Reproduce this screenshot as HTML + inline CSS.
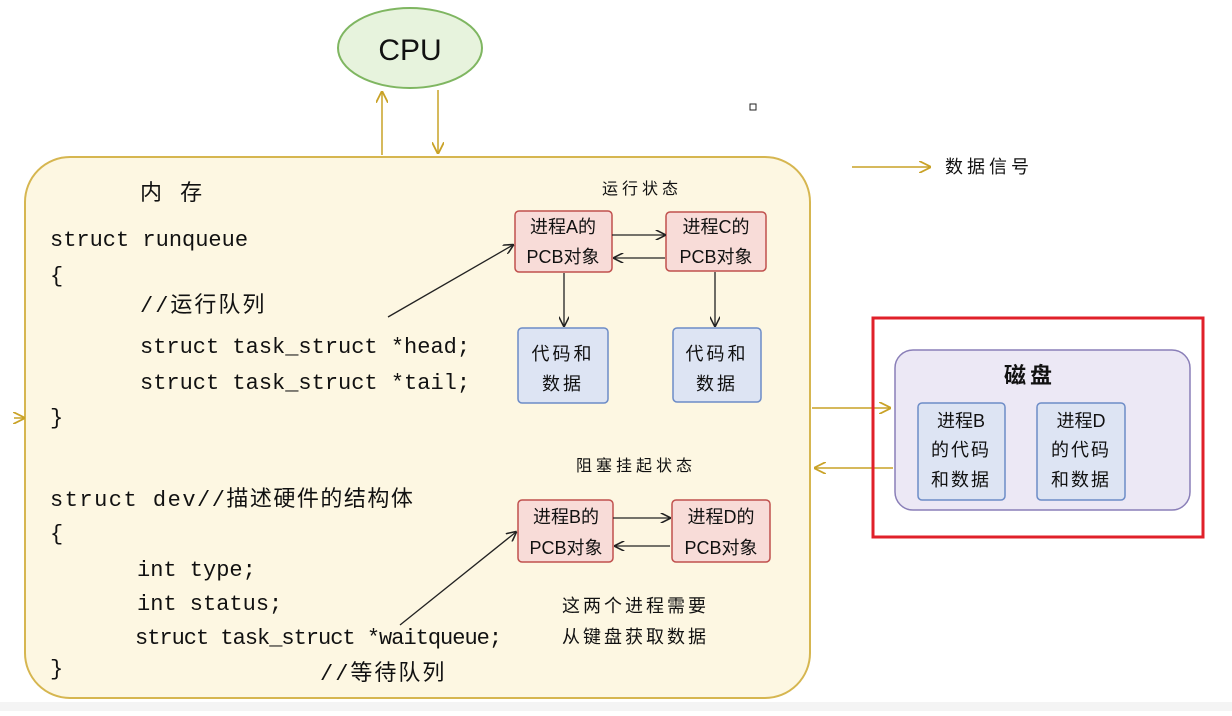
<!DOCTYPE html>
<html><head><meta charset="utf-8"><style>
body{margin:0;background:#fff;width:1232px;height:711px;overflow:hidden}
svg text{font-family:"Liberation Sans","Noto Sans CJK SC",sans-serif;fill:#111}
svg .m{font-family:"Liberation Mono","Noto Sans CJK SC",monospace}
</style></head><body>
<svg width="1232" height="711" viewBox="0 0 1232 711">
<defs>
<marker id="a" viewBox="0 0 10 10" refX="9" refY="5" markerWidth="8" markerHeight="8" orient="auto"><path d="M0,0 L10,5 L0,10" fill="none" stroke="#222" stroke-width="1.5"/></marker>
<marker id="y" viewBox="0 0 10 10" refX="9" refY="5" markerWidth="8" markerHeight="8" orient="auto"><path d="M0,0 L10,5 L0,10" fill="none" stroke="#c9a227" stroke-width="1.5"/></marker>
</defs>
<rect x="0" y="702" width="1232" height="9" fill="#f4f4f4"/>
<ellipse cx="410" cy="48" rx="72" ry="40" fill="#e7f3dd" stroke="#7fb661" stroke-width="2"/>
<text x="410" y="60" font-size="30" text-anchor="middle">CPU</text>
<rect x="750" y="104" width="6" height="6" fill="none" stroke="#222"/>
<line x1="382" y1="155" x2="382" y2="92" stroke="#c9a227" stroke-width="1.5" marker-end="url(#y)"/>
<line x1="438" y1="90" x2="438" y2="153" stroke="#c9a227" stroke-width="1.5" marker-end="url(#y)"/>
<line x1="852" y1="167" x2="930" y2="167" stroke="#c9a227" stroke-width="1.5" marker-end="url(#y)"/>
<text x="945" y="173" font-size="18" letter-spacing="4">数据信号</text>
<rect x="25" y="157" width="785" height="541" rx="45" fill="#fdf7e2" stroke="#d6b650" stroke-width="2"/>
<text x="140" y="200" font-size="22" letter-spacing="6">内 存</text>
<g font-size="22" class="m">
<text class="m" x="50" y="246">struct runqueue</text>
<text class="m" x="50" y="282">{</text>
<text class="m" x="140" y="312" letter-spacing="2">//运行队列</text>
<text class="m" x="140" y="353">struct task_struct *head;</text>
<text class="m" x="140" y="389">struct task_struct *tail;</text>
<text class="m" x="50" y="424">}</text>
<text class="m" x="50" y="506" letter-spacing="1.5">struct dev//描述硬件的结构体</text>
<text class="m" x="50" y="540">{</text>
<text class="m" x="137" y="576">int type;</text>
<text class="m" x="137" y="610">int status;</text>
<text class="m" x="135" y="644" letter-spacing="-1">struct task_struct *waitqueue;</text>
<text class="m" x="50" y="675">}</text>
<text class="m" x="320" y="680" letter-spacing="2">//等待队列</text>
</g>
<text x="602" y="194" font-size="16" letter-spacing="4">运行状态</text>
<text x="576" y="471" font-size="16" letter-spacing="4">阻塞挂起状态</text>
<text x="562" y="612" font-size="18" letter-spacing="3">这两个进程需要</text>
<text x="562" y="643" font-size="18" letter-spacing="3">从键盘获取数据</text>
<g font-size="18" text-anchor="middle">
<rect x="515" y="211" width="97" height="61" rx="4" fill="#f8dcd8" stroke="#c0504d" stroke-width="1.5"/>
<text x="563" y="233">进程A的</text><text x="563" y="263">PCB对象</text>
<rect x="666" y="212" width="100" height="59" rx="4" fill="#f8dcd8" stroke="#c0504d" stroke-width="1.5"/>
<text x="716" y="233">进程C的</text><text x="716" y="263">PCB对象</text>
<rect x="518" y="328" width="90" height="75" rx="4" fill="#dde4f3" stroke="#6d8cc7" stroke-width="1.5"/>
<text x="563" y="360" letter-spacing="3">代码和</text><text x="563" y="390" letter-spacing="3">数据</text>
<rect x="673" y="328" width="88" height="74" rx="4" fill="#dde4f3" stroke="#6d8cc7" stroke-width="1.5"/>
<text x="717" y="360" letter-spacing="3">代码和</text><text x="717" y="390" letter-spacing="3">数据</text>
<rect x="518" y="500" width="95" height="62" rx="4" fill="#f8dcd8" stroke="#c0504d" stroke-width="1.5"/>
<text x="566" y="523">进程B的</text><text x="566" y="554">PCB对象</text>
<rect x="672" y="500" width="98" height="62" rx="4" fill="#f8dcd8" stroke="#c0504d" stroke-width="1.5"/>
<text x="721" y="523">进程D的</text><text x="721" y="554">PCB对象</text>
</g>
<g stroke="#222" stroke-width="1.3" fill="none">
<line x1="612" y1="235" x2="665" y2="235" marker-end="url(#a)"/>
<line x1="665" y1="258" x2="614" y2="258" marker-end="url(#a)"/>
<line x1="564" y1="273" x2="564" y2="326" marker-end="url(#a)"/>
<line x1="715" y1="272" x2="715" y2="326" marker-end="url(#a)"/>
<line x1="613" y1="518" x2="670" y2="518" marker-end="url(#a)"/>
<line x1="670" y1="546" x2="615" y2="546" marker-end="url(#a)"/>
<line x1="388" y1="317" x2="513" y2="245" marker-end="url(#a)"/>
<line x1="400" y1="625" x2="516" y2="532" marker-end="url(#a)"/>
</g>
<line x1="812" y1="408" x2="890" y2="408" stroke="#c9a227" stroke-width="1.5" marker-end="url(#y)"/>
<line x1="893" y1="468" x2="815" y2="468" stroke="#c9a227" stroke-width="1.5" marker-end="url(#y)"/>
<line x1="14" y1="418" x2="24" y2="418" stroke="#c9a227" stroke-width="1.5" marker-end="url(#y)"/>
<rect x="895" y="350" width="295" height="160" rx="18" fill="#ece8f5" stroke="#8a7fb8" stroke-width="1.5"/>
<text x="1030" y="383" font-size="22" text-anchor="middle" font-weight="bold" letter-spacing="4">磁盘</text>
<g font-size="18" text-anchor="middle">
<rect x="918" y="403" width="87" height="97" rx="4" fill="#dde4f3" stroke="#6d8cc7" stroke-width="1.5"/>
<text x="961" y="427">进程B</text><text x="961" y="456" letter-spacing="2">的代码</text><text x="961" y="486" letter-spacing="2">和数据</text>
<rect x="1037" y="403" width="88" height="97" rx="4" fill="#dde4f3" stroke="#6d8cc7" stroke-width="1.5"/>
<text x="1081" y="427">进程D</text><text x="1081" y="456" letter-spacing="2">的代码</text><text x="1081" y="486" letter-spacing="2">和数据</text>
</g>
<rect x="873" y="318" width="330" height="219" fill="none" stroke="#e0202a" stroke-width="3"/>
</svg>
</body></html>
